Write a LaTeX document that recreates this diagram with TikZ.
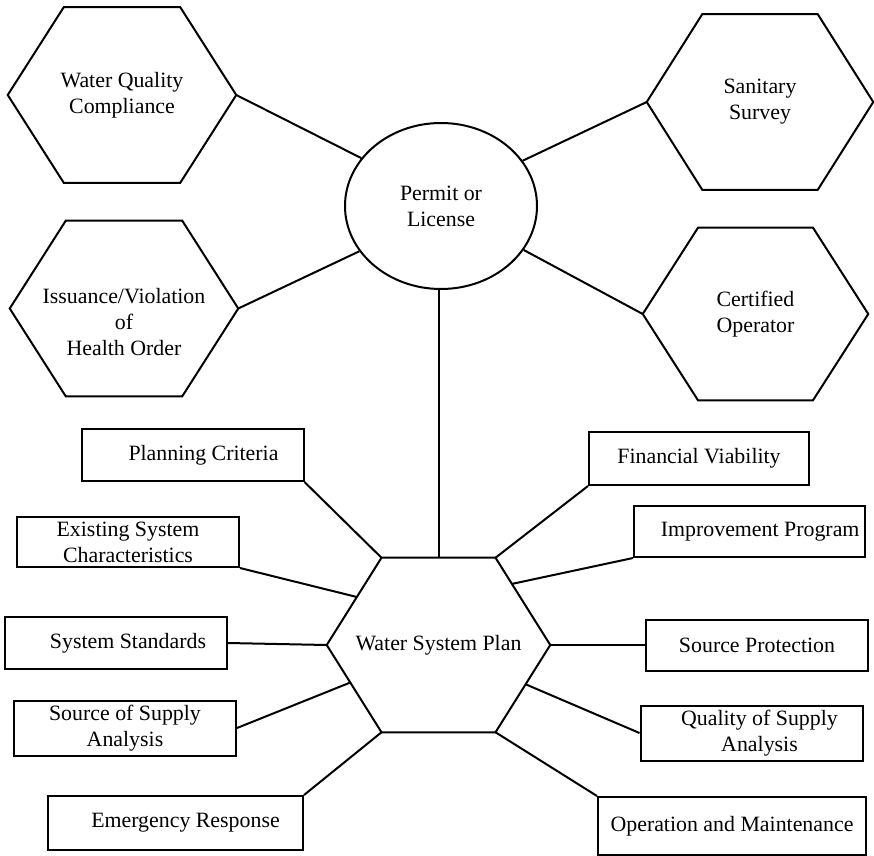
\documentclass[tikz,border=0pt]{standalone}
\usepackage{fontspec}
\setmainfont{Liberation Serif}
\usetikzlibrary{calc,shapes.geometric}

% one pixel of the layout
\newcommand{\px}{0.75pt}
% outline of a flat-topped hexagon on a node's box, with named corners
\newcommand{\hexoutline}[1]{%
  \coordinate (#1-nw) at ($(#1.north west)!0.245!(#1.north east)$);
  \coordinate (#1-ne) at ($(#1.north west)!0.755!(#1.north east)$);
  \coordinate (#1-sw) at ($(#1.south west)!0.245!(#1.south east)$);
  \coordinate (#1-se) at ($(#1.south west)!0.755!(#1.south east)$);
  \draw[link] (#1.west) -- (#1-nw) -- (#1-ne) -- (#1.east) -- (#1-se) -- (#1-sw) -- cycle;}

\begin{document}
\begin{tikzpicture}[
  x=\px, y=-\px,
  every node/.style={font=\fontsize{16.4}{19.5}\selectfont, align=center},
  link/.style={line width=1.5pt, line join=miter},
  hexnode/.style={minimum width=228*\px, minimum height=175*\px},
  permitnode/.style={ellipse, draw, line width=1.5pt, minimum width=192*\px, minimum height=166*\px, inner sep=0pt},
  planbox/.style={draw, line width=1.5pt, minimum width=222*\px, minimum height=52*\px}
]
  \useasboundingbox (0,0) rectangle (874,856);

  % Permit or License and its four hexagons
  \node[permitnode] (permit) at (441,206) {Permit or\\License};
  \node[hexnode] (wqc) at (122,95) {Water Quality\\Compliance};
  \node[hexnode] (issue) at (124,308.5) {\rule{0pt}{31pt}Issuance/Violation\\of\\Health Order};
  \node[hexnode, minimum width=226*\px] (sanit) at (760,102) {Sanitary\\Survey};
  \node[hexnode, minimum width=225*\px, minimum height=172*\px] (cert) at (755.5,314) {Certified\\Operator};
  \hexoutline{wqc}
  \hexoutline{issue}
  \hexoutline{sanit}
  \hexoutline{cert}

  \draw[link] (wqc.east) -- (permit.149);
  \draw[link] (issue.east) -- (permit.209);
  \draw[link] (sanit.west) -- (permit.29);
  \draw[link] (cert.west) -- (permit.332);

  % Water System Plan
  \node[hexnode, minimum width=223*\px, minimum height=174*\px] (wsp) at (438.5,645) {Water System Plan};
  \hexoutline{wsp}
  \draw[link] (wsp.north) -- (wsp.north |- permit.south);

  % left side elements
  \node[planbox] (plan) at (192.5,455) {\hspace*{16.5pt}Planning Criteria};
  \node[planbox, minimum height=50*\px] (exist) at (128,542) {Existing System\\Characteristics};
  \node[planbox] (stds) at (116,643) {\hspace*{18pt}System Standards};
  \node[planbox] (srcsup) at (125,728) {Source of Supply\\Analysis};
  \node[planbox, minimum width=255*\px, minimum height=54*\px] (emerg) at (175.5,823) {\hspace*{15pt}Emergency Response};

  \draw[link] (plan.south east) -- (wsp-nw);
  \draw[link] (exist.south east) -- ($(wsp-nw)!0.45!(wsp.west)$);
  \draw[link] (stds.east) -- (wsp.west);
  \draw[link] (srcsup.east) -- ($(wsp.west)!0.43!(wsp-sw)$);
  \draw[link] (emerg.north east) -- (wsp-sw);

  % right side elements
  \node[planbox, minimum width=220*\px, minimum height=53*\px] (fin) at (699,458.5) {Financial Viability};
  \node[planbox, minimum width=231*\px, minimum height=51*\px, inner xsep=0pt] (impr) at (749.5,531.5) {\hspace*{16pt}Improvement Program};
  \node[planbox, minimum height=51*\px] (srcprot) at (757,645) {Source Protection};
  \node[planbox] (qual) at (751.5,733) {\hspace*{12pt}Quality of Supply\\\hspace*{12pt}Analysis};
  \node[planbox, minimum width=268*\px, minimum height=58*\px] (oper) at (732,826) {Operation and Maintenance};

  \draw[link] (fin.south west) -- (wsp-ne);
  \draw[link] (impr.south west) -- ($(wsp-ne)!0.3!(wsp.east)$);
  \draw[link] (srcprot.west) -- (wsp.east);
  \draw[link] (qual.west) -- ($(wsp.east)!0.45!(wsp-se)$);
  \draw[link] (oper.north west) -- (wsp-se);
\end{tikzpicture}
\end{document}
